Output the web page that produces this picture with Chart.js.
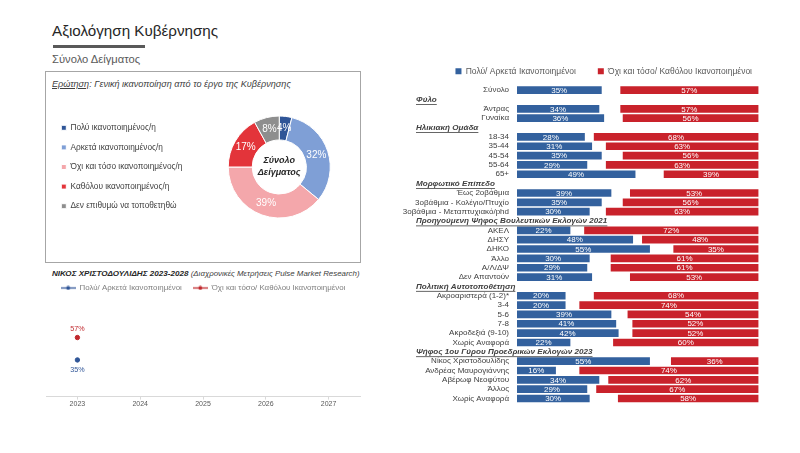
<!DOCTYPE html>
<html><head><meta charset="utf-8">
<script src="https://cdn.jsdelivr.net/npm/chart.js@4.4.1/dist/chart.umd.min.js"></script>
<style>
html,body{margin:0;padding:0;background:#fff;}
#page{position:relative;width:800px;height:453px;overflow:hidden;font-family:'Liberation Sans',Arial,sans-serif;}
.abs{position:absolute;white-space:nowrap;}
canvas{position:absolute;}
</style></head><body><div id="page">
<div class="abs" style="left:52px;top:21px;font-size:15.2px;line-height:20px;color:#262626;">Αξιολόγηση Κυβέρνησης</div>
<div class="abs" style="left:53px;top:45px;width:92px;height:3px;background:#595959;"></div>
<div class="abs" style="left:52px;top:52px;font-size:11.2px;line-height:14px;color:#595959;">Σύνολο Δείγματος</div>
<div class="abs" style="left:45px;top:71px;width:314px;height:190px;border:1.5px solid #a6a6a6;"></div>
<div class="abs" style="left:52px;top:78px;font-size:9.1px;line-height:12px;font-style:italic;color:#404040;"><u>Ερώτηση</u>: Γενική ικανοποίηση από το έργο της Κυβέρνησης</div>
<div class="abs" style="left:52px;top:268px;font-size:8.1px;line-height:12px;font-style:italic;color:#262626;"><b>ΝΙΚΟΣ ΧΡΙΣΤΟΔΟΥΛΙΔΗΣ 2023-2028</b> <span style="font-size:7.9px;color:#404040;">(Διαχρονικές Μετρήσεις Pulse Market Research)</span></div>
<canvas id="donut" width="320" height="150" style="left:46px;top:92px;"></canvas>
<canvas id="trend" width="325" height="137" style="left:40px;top:273px;"></canvas>
<canvas id="bars" width="400" height="363" style="left:400px;top:45px;"></canvas>
</div>
<script>
// ---------- DATA ----------
const donutLabels = ['Πολύ ικανοποιημένος/η', 'Αρκετά ικανοποιημένος/η', 'Όχι και τόσο ικανοποιημένος/η', 'Καθόλου ικανοποιημένος/η', 'Δεν επιθυμώ να τοποθετηθώ'];
const donutValues = [4, 32, 39, 17, 8];

const trendYears = ['2023', '2024', '2025', '2026', '2027'];
const trendSatisfied = [35, null, null, null, null];
const trendDissatisfied = [57, null, null, null, null];

const seriesNames = ['Πολύ/ Αρκετά Ικανοποιημένοι', 'Όχι και τόσο/ Καθόλου Ικανοποιημένοι'];

const categories = [
  'Σύνολο',
  'Φύλο', 'Άντρας', 'Γυναίκα',
  'Ηλικιακή Ομάδα', '18-34', '35-44', '45-54', '55-64', '65+',
  'Μορφωτικό Επίπεδο', 'Έως 2οβάθμια', '3οβάθμια - Κολέγιο/Πτυχίο', '3οβάθμια - Μεταπτυχιακό/phd',
  'Προηγούμενη Ψήφος Βουλευτικών Εκλογών 2021', 'ΑΚΕΛ', 'ΔΗΣΥ', 'ΔΗΚΟ', 'Άλλο', 'Α/Λ/ΔΨ', 'Δεν Απαντούν',
  'Πολιτική Αυτοτοποθέτηση', 'Ακροαριστερά (1-2)*', '3-4', '5-6', '7-8', 'Ακροδεξιά (9-10)', 'Χωρίς Αναφορά',
  'Ψήφος 1ου Γύρου Προεδρικών Εκλογών 2023', 'Νίκος Χριστοδουλίδης', 'Ανδρέας Μαυρογιάννης', 'Αβέρωφ Νεοφύτου', 'Άλλος', 'Χωρίς Αναφορά'
];
const sectionHeaders = ['Φύλο', 'Ηλικιακή Ομάδα', 'Μορφωτικό Επίπεδο', 'Προηγούμενη Ψήφος Βουλευτικών Εκλογών 2021', 'Πολιτική Αυτοτοποθέτηση', 'Ψήφος 1ου Γύρου Προεδρικών Εκλογών 2023'];
const satisfied = [
  35,
  null, 34, 36,
  null, 28, 31, 35, 29, 49,
  null, 39, 35, 30,
  null, 22, 48, 55, 30, 29, 31,
  null, 20, 20, 39, 41, 42, 22,
  null, 55, 16, 34, 29, 30
];
const dissatisfied = [
  57,
  null, 57, 56,
  null, 68, 63, 56, 63, 39,
  null, 53, 56, 63,
  null, 72, 48, 35, 61, 61, 53,
  null, 68, 74, 54, 52, 52, 60,
  null, 36, 74, 62, 67, 58
];

// ---------- STYLE ----------
const F = "'Liberation Sans',Arial,sans-serif";
const BLUE = '#33619e';
const RED = '#c9222b';
const DONUT_COLORS = ['#2f5597', '#7f9fd6', '#f4a7ab', '#e3343a', '#8e8e8e'];
Chart.defaults.font.family = F;

// ---------- DONUT ----------
const donutLabelPlugin = {
  id: 'donutLabels',
  afterDatasetsDraw(chart) {
    const ctx = chart.ctx;
    const meta = chart.getDatasetMeta(0);
    ctx.save();
    ctx.font = '10px ' + F;
    ctx.fillStyle = '#ffffff';
    ctx.textAlign = 'center';
    ctx.textBaseline = 'middle';
    meta.data.forEach((arc, i) => {
      const p = arc.tooltipPosition();
      ctx.fillText(donutValues[i] + '%', p.x, p.y);
    });
    const cx = meta.data[0].x, cy = meta.data[0].y;
    ctx.font = 'italic bold 9px ' + F;
    ctx.fillStyle = '#262626';
    ctx.fillText('Σύνολο', cx, cy - 6);
    ctx.fillText('Δείγματος', cx, cy + 6);
    ctx.restore();
  }
};
new Chart(document.getElementById('donut'), {
  type: 'doughnut',
  data: { labels: donutLabels, datasets: [{ data: donutValues, backgroundColor: DONUT_COLORS, borderColor: '#ffffff', borderWidth: 1 }] },
  options: {
    responsive: false, animation: false, radius: 51, cutout: '53%',
    layout: { padding: { left: 4 } },
    plugins: {
      legend: { position: 'left', align: 'center', labels: { boxWidth: 5, boxHeight: 5, padding: 11.3, color: '#404040', font: { size: 8.3, family: F } } },
      tooltip: { enabled: false }
    }
  },
  plugins: [donutLabelPlugin]
});

// ---------- TREND ----------
function legendMark(color) {
  const c = document.createElement('canvas');
  c.width = 15; c.height = 5;
  const x = c.getContext('2d');
  x.strokeStyle = color; x.lineWidth = 1.3;
  x.beginPath(); x.moveTo(0, 2.5); x.lineTo(15, 2.5); x.stroke();
  x.fillStyle = color; x.beginPath(); x.arc(7.5, 2.5, 2, 0, Math.PI * 2); x.fill();
  return c;
}
const trendMarks = [legendMark('#2f5597'), legendMark('#c0282d')];
const trendLabelPlugin = {
  id: 'trendLabels',
  afterDatasetsDraw(chart) {
    const ctx = chart.ctx;
    ctx.save();
    ctx.font = '7.2px ' + F;
    ctx.textAlign = 'center';
    ctx.textBaseline = 'middle';
    chart.data.datasets.forEach((ds, di) => {
      chart.getDatasetMeta(di).data.forEach((pt, i) => {
        const v = ds.data[i];
        if (v == null) return;
        ctx.fillStyle = ds.borderColor;
        ctx.fillText(v + '%', pt.x, di === 0 ? pt.y + 10 : pt.y - 9);
      });
    });
    ctx.restore();
  }
};
new Chart(document.getElementById('trend'), {
  type: 'line',
  data: {
    labels: trendYears,
    datasets: [
      { label: seriesNames[0], data: trendSatisfied, borderColor: '#2f5597', backgroundColor: '#2f5597', pointRadius: 2.2, showLine: false },
      { label: seriesNames[1], data: trendDissatisfied, borderColor: '#c0282d', backgroundColor: '#c0282d', pointRadius: 2.2, showLine: false }
    ]
  },
  options: {
    responsive: false, animation: false,
    layout: { padding: { left: 6, right: 5, bottom: 2 } },
    plugins: {
      legend: {
        position: 'top', align: 'center',
        labels: {
          usePointStyle: true, pointStyleWidth: 15, padding: 11, color: '#7f7f7f', font: { size: 7.9, family: F },
          generateLabels: (chart) => chart.data.datasets.map((d, i) => ({ text: d.label, pointStyle: trendMarks[i], fillStyle: d.borderColor, strokeStyle: d.borderColor, lineWidth: 0, hidden: false, datasetIndex: i, fontColor: '#7f7f7f' }))
        }
      },
      tooltip: { enabled: false }
    },
    scales: {
      x: { offset: true, grid: { drawOnChartArea: false, drawTicks: true, tickLength: 3, color: '#d9d9d9' }, border: { color: '#d9d9d9' }, ticks: { padding: 0, color: '#595959', font: { size: 7, family: F } } },
      y: { display: false, min: -1, max: 92 }
    }
  },
  plugins: [trendLabelPlugin]
});

// ---------- BARS ----------
const gap = categories.map((c, i) => satisfied[i] == null ? null : 100 - satisfied[i] - dissatisfied[i]);
const barLabelPlugin = {
  id: 'barLabels',
  afterDatasetsDraw(chart) {
    const ctx = chart.ctx;
    ctx.save();
    ctx.font = '8px ' + F;
    ctx.fillStyle = '#ffffff';
    ctx.textAlign = 'center';
    ctx.textBaseline = 'middle';
    [0, 2].forEach(di => {
      chart.getDatasetMeta(di).data.forEach((el, i) => {
        const v = chart.data.datasets[di].data[i];
        if (v == null) return;
        const p = el.getCenterPoint();
        ctx.fillText(v + '%', p.x, p.y + 0.5);
      });
    });
    ctx.restore();
  }
};
const headerPlugin = {
  id: 'sectionHeaders',
  afterDraw(chart) {
    const y = chart.scales.y;
    const ctx = chart.ctx;
    ctx.save();
    ctx.font = 'italic bold 8.1px ' + F;
    ctx.fillStyle = '#404040';
    ctx.textAlign = 'left';
    ctx.textBaseline = 'middle';
    categories.forEach((c, i) => {
      if (!sectionHeaders.includes(c)) return;
      const py = y.getPixelForValue(i);
      ctx.fillText(c, 16, py);
      const w = ctx.measureText(c).width;
      ctx.fillRect(16, py + 4.5, w, 0.8);
    });
    ctx.restore();
  }
};
new Chart(document.getElementById('bars'), {
  type: 'bar',
  data: {
    labels: categories,
    datasets: [
      { label: seriesNames[0], data: satisfied, backgroundColor: BLUE, barThickness: 7 },
      { label: '_gap', data: gap, backgroundColor: 'rgba(0,0,0,0)', barThickness: 7 },
      { label: seriesNames[1], data: dissatisfied, backgroundColor: RED, barThickness: 7 }
    ]
  },
  options: {
    indexAxis: 'y', responsive: false, animation: false,
    layout: { padding: { left: 0, right: 26, top: 0, bottom: 0 } },
    plugins: {
      legend: {
        position: 'top', align: 'end',
        labels: { filter: (item) => item.text !== '_gap', boxWidth: 6, boxHeight: 6, padding: 22, color: '#595959', font: { size: 8.5, family: F } }
      },
      tooltip: { enabled: false }
    },
    scales: {
      x: { stacked: true, min: 0, max: 106.6, display: false },
      y: {
        stacked: true, grid: { display: false }, border: { display: false },
        ticks: { autoSkip: false, padding: 0, color: '#404040', font: { size: 8, family: F },
          callback: (v, i) => sectionHeaders.includes(categories[i]) ? '' : categories[i] },
        afterFit: (s) => { s.width = 117; }
      }
    }
  },
  plugins: [barLabelPlugin, headerPlugin]
});
</script>
</body></html>
